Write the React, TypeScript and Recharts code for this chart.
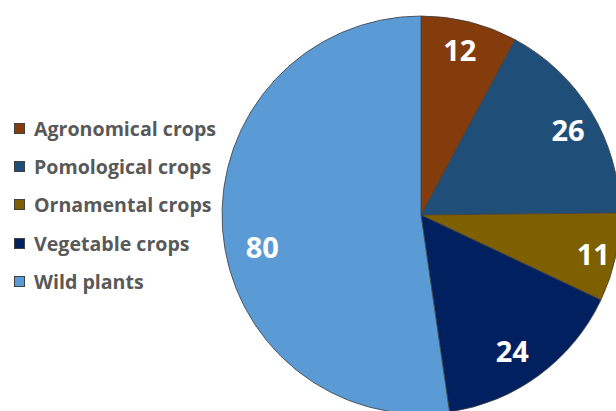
import { PieChart, Pie, Cell } from "recharts";

const categories = ["Agronomical crops", "Pomological crops", "Ornamental crops", "Vegetable crops", "Wild plants"];
const counts = [12, 26, 11, 24, 80];
const colors = ["#843C0C", "#1F4E79", "#7F6000", "#002060", "#5B9BD5"];

const data = categories.map((name, i) => ({ name, value: counts[i] }));

// small hand nudges for the value labels (best-fit placement)
const labelNudge: [number, number][] = [
  [-2, -3],
  [4, 1],
  [9, 3],
  [-8, 1],
  [8, 19],
];

const FONT = "'Open Sans', Lato, sans-serif";
const RADIAN = Math.PI / 180;

// value label sits at ~84% of the radius, on the slice's mid angle
const renderLabel = (props: any) => {
  const { cx, cy, midAngle, outerRadius, value, index } = props;
  const r = outerRadius * 0.84;
  const [dx, dy] = labelNudge[index] ?? [0, 0];
  const x = cx + r * Math.cos(-midAngle * RADIAN) + dx;
  const y = cy + r * Math.sin(-midAngle * RADIAN) + dy;
  return (
    <text
      x={x}
      y={y}
      fill="#fff"
      textAnchor="middle"
      dominantBaseline="central"
      fontFamily={FONT}
      fontWeight={700}
      fontSize={29}
    >
      {value}
    </text>
  );
};

const LegendList = () => (
  <div
    style={{
      position: "absolute",
      left: 14,
      top: 109,
      fontFamily: FONT,
      fontWeight: 700,
      fontSize: 19.6,
      color: "#595959",
    }}
  >
    {categories.map((c, i) => (
      <div key={c} style={{ display: "flex", alignItems: "center", height: 38.3 }}>
        <span
          style={{
            width: 11,
            height: 11,
            background: colors[i],
            border: "1px solid #404040",
            boxSizing: "border-box",
            marginRight: 9,
          }}
        />
        <span>{c}</span>
      </div>
    ))}
  </div>
);

export default function App() {
  return (
    <div style={{ position: "absolute", left: 0, top: 0, width: 616, height: 411, background: "#fff", overflow: "hidden" }}>
      <PieChart width={616} height={411} margin={{ top: 0, right: 0, bottom: 0, left: 0 }}>
        <Pie
          data={data}
          dataKey="value"
          nameKey="name"
          cx={421}
          cy={215}
          outerRadius={199}
          startAngle={90}
          endAngle={-270}
          stroke="#404040"
          strokeWidth={0.8}
          label={renderLabel}
          labelLine={false}
          isAnimationActive={false}
        >
          {data.map((d, i) => (
            <Cell key={d.name} fill={colors[i]} />
          ))}
        </Pie>
      </PieChart>
      <LegendList />
    </div>
  );
}
